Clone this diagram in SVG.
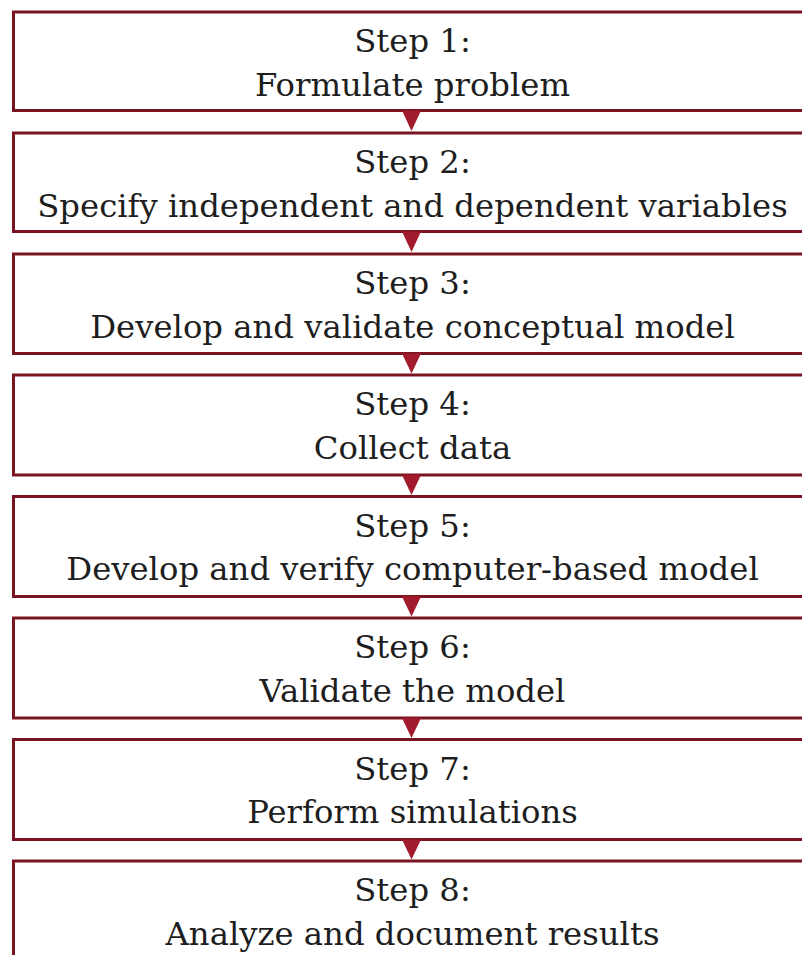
<svg xmlns="http://www.w3.org/2000/svg" width="802" height="955" viewBox="0 0 802 955">
  <style>
    .box { fill: #ffffff; stroke: #7a1420; stroke-width: 3; }
    .arrow { fill: #a21b2d; }
    text { font-family: "DejaVu Serif", "Liberation Serif", serif; font-size: 32.3px; fill: #1e1e1e; text-anchor: middle; }
  </style>
  <rect width="802" height="955" fill="#ffffff"/>

  <g id="step1">
    <rect class="box" x="13.5" y="12" width="810" height="98.5"/>
    <text x="412.5" y="52">Step 1:</text>
    <text x="412.5" y="95.5">Formulate problem</text>
  </g>
  <g id="step2">
    <rect class="box" x="13.5" y="133" width="810" height="98.5"/>
    <text x="412.5" y="173">Step 2:</text>
    <text x="412.5" y="216.5">Specify independent and dependent variables</text>
  </g>
  <g id="step3">
    <rect class="box" x="13.5" y="254" width="810" height="99.5"/>
    <text x="412.5" y="294">Step 3:</text>
    <text x="412.5" y="337.5">Develop and validate conceptual model</text>
  </g>
  <g id="step4">
    <rect class="box" x="13.5" y="375" width="810" height="100"/>
    <text x="412.5" y="415">Step 4:</text>
    <text x="412.5" y="458.5">Collect data</text>
  </g>
  <g id="step5">
    <rect class="box" x="13.5" y="496.5" width="810" height="100"/>
    <text x="412.5" y="536.5">Step 5:</text>
    <text x="412.5" y="580">Develop and verify computer-based model</text>
  </g>
  <g id="step6">
    <rect class="box" x="13.5" y="618" width="810" height="100"/>
    <text x="412.5" y="658">Step 6:</text>
    <text x="412.5" y="701.5">Validate the model</text>
  </g>
  <g id="step7">
    <rect class="box" x="13.5" y="739.5" width="810" height="100"/>
    <text x="412.5" y="779.5">Step 7:</text>
    <text x="412.5" y="823">Perform simulations</text>
  </g>
  <g id="step8">
    <rect class="box" x="13.5" y="861" width="810" height="110"/>
    <text x="412.5" y="901">Step 8:</text>
    <text x="412.5" y="944.5">Analyze and document results</text>
  </g>

  <g id="connectors">
    <path class="arrow" d="M402 110.5 L421 110.5 L411.5 131 Z"/>
    <path class="arrow" d="M402 231.5 L421 231.5 L411.5 252 Z"/>
    <path class="arrow" d="M402 353.5 L421 353.5 L411.5 373.5 Z"/>
    <path class="arrow" d="M402 475 L421 475 L411.5 495 Z"/>
    <path class="arrow" d="M402 596.5 L421 596.5 L411.5 616.5 Z"/>
    <path class="arrow" d="M402 718 L421 718 L411.5 738 Z"/>
    <path class="arrow" d="M402 839.5 L421 839.5 L411.5 859.5 Z"/>
  </g>
</svg>
